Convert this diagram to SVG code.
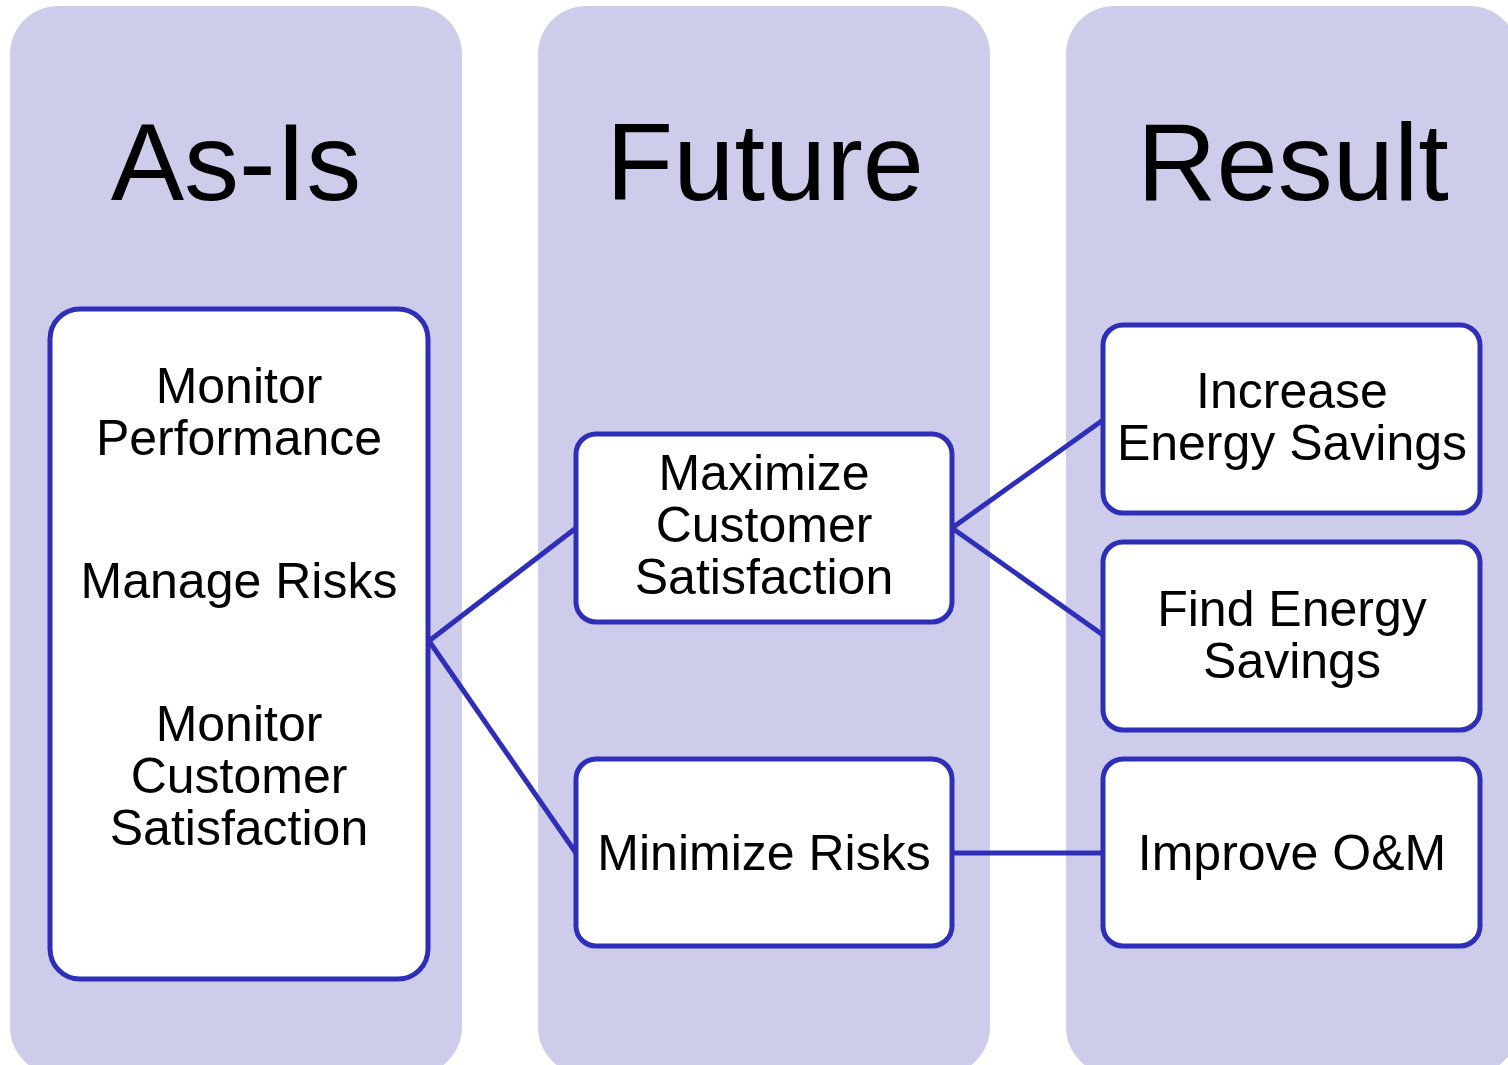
<svg xmlns="http://www.w3.org/2000/svg" width="1508" height="1065" viewBox="0 0 1508 1065">
<style>
.col{fill:#CDCDEB}
.box{fill:#fff;stroke:#2E2EB8;stroke-width:5}
.t{font-family:"Liberation Sans",Arial,sans-serif;font-size:50px;fill:#000;text-anchor:middle}
.h{font-family:"Liberation Sans",Arial,sans-serif;font-size:110px;fill:#000;text-anchor:middle}
.c{stroke:#2E2EB8;stroke-width:5;fill:none}
</style>
<rect width="1508" height="1065" fill="#fff"/>
<g id="col-asis"><rect class="col" x="10" y="6" width="452" height="1069" rx="48"/><text class="h" x="236" y="200">As-Is</text></g>
<g id="col-future"><rect class="col" x="538" y="6" width="452" height="1069" rx="48"/><text class="h" x="765" y="200">Future</text></g>
<g id="col-result"><rect class="col" x="1066" y="6" width="452" height="1069" rx="48"/><text class="h" x="1293" y="200">Result</text></g>
<g id="connectors">
<line class="c" x1="429" y1="641" x2="576" y2="528"/>
<line class="c" x1="429" y1="641" x2="576" y2="853"/>
<line class="c" x1="952" y1="528" x2="1103" y2="420"/>
<line class="c" x1="952" y1="528" x2="1103" y2="635"/>
<line class="c" x1="952" y1="853" x2="1103" y2="853"/>
</g>
<g id="asis-box"><rect class="box" x="50" y="309" width="378" height="670" rx="30"/>
<text class="t" x="239" y="403">Monitor</text><text class="t" x="239" y="455">Performance</text>
<text class="t" x="239" y="598">Manage Risks</text>
<text class="t" x="239" y="741">Monitor</text><text class="t" x="239" y="793">Customer</text><text class="t" x="239" y="845">Satisfaction</text></g>
<g id="maximize"><rect class="box" x="576" y="434" width="376" height="188" rx="20"/>
<text class="t" x="764" y="490">Maximize</text><text class="t" x="764" y="542">Customer</text><text class="t" x="764" y="594">Satisfaction</text></g>
<g id="minimize"><rect class="box" x="576" y="759" width="376" height="187" rx="20"/>
<text class="t" x="764" y="870">Minimize Risks</text></g>
<g id="increase"><rect class="box" x="1103" y="325" width="377" height="188" rx="20"/>
<text class="t" x="1292" y="408">Increase</text><text class="t" x="1292" y="460">Energy Savings</text></g>
<g id="find"><rect class="box" x="1103" y="542" width="377" height="188" rx="20"/>
<text class="t" x="1292" y="626">Find Energy</text><text class="t" x="1292" y="678">Savings</text></g>
<g id="improve"><rect class="box" x="1103" y="759" width="377" height="187" rx="20"/>
<text class="t" x="1292" y="870">Improve O&amp;M</text></g>
</svg>
